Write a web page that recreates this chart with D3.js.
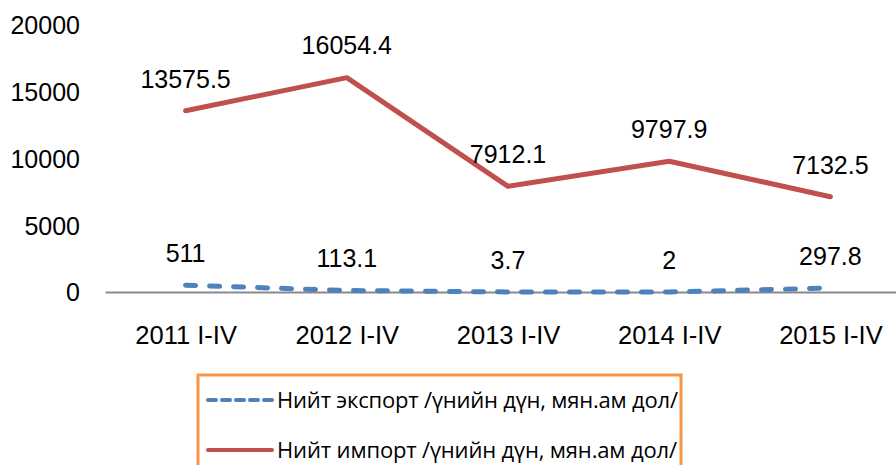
<!DOCTYPE html>
<html>
<head>
<meta charset="utf-8">
<script src="https://cdn.jsdelivr.net/npm/d3@7"></script>
<style>
  html, body { margin: 0; padding: 0; background: #fff; }
  svg { display: block; }
  .num { font-family: "Liberation Sans", Arial, sans-serif; font-size: 25px; fill: #000; }
  .cat { font-size: 25.5px; }
  .leg { font-family: "Open Sans", "Noto Sans", sans-serif; font-size: 22px; fill: #000; }
</style>
</head>
<body>
<svg id="chart" width="896" height="465"></svg>
<script>
// Period labels along the x axis
const categories = ["2011 I-IV", "2012 I-IV", "2013 I-IV", "2014 I-IV", "2015 I-IV"];
// Total exports, value in million US dollars
const exportValues = [511, 113.1, 3.7, 2, 297.8];
// Total imports, value in million US dollars
const importValues = [13575.5, 16054.4, 7912.1, 9797.9, 7132.5];
// Y axis ticks
const yTicks = [0, 5000, 10000, 15000, 20000];
// Series names for the legend
const seriesNames = [
  "Нийт экспорт /үнийн дүн, мян.ам дол/",
  "Нийт импорт /үнийн дүн, мян.ам дол/"
];

const svg = d3.select("#chart");

const x = d3.scalePoint().domain(categories).range([105, 911]).padding(0.5);
const y = d3.scaleLinear().domain([0, 20000]).range([292, 25]);

// Y tick labels (no axis line, no gridlines)
const yAxis = svg.append("g")
  .attr("transform", "translate(80,0)")
  .call(d3.axisLeft(y).tickValues(yTicks).tickSize(0).tickPadding(0).tickFormat(d3.format("d")));
yAxis.select(".domain").remove();
yAxis.selectAll("text").attr("class", "num").attr("font-size", null).attr("font-family", null)
  .attr("dy", "0.35em");

// Category axis along the zero line
const xAxis = svg.append("g")
  .attr("transform", `translate(0,${y(0)})`)
  .call(d3.axisBottom(x).tickSize(0).tickPadding(0));
xAxis.select(".domain").attr("stroke", "#898989").attr("stroke-width", 2);
xAxis.selectAll("text").attr("class", "num cat").attr("font-size", null).attr("font-family", null)
  .attr("y", 43).attr("dy", "0.35em");

const line = d3.line().x((d, i) => x(categories[i])).y(d => y(d));

const series = [
  { name: seriesNames[0], values: exportValues, color: "#4F81BD", dash: "10,14" },
  { name: seriesNames[1], values: importValues, color: "#C0504D", dash: null }
];

series.forEach(s => {
  svg.append("path")
    .datum(s.values)
    .attr("d", line)
    .attr("fill", "none")
    .attr("stroke", s.color)
    .attr("stroke-width", 5)
    .attr("stroke-linecap", "round")
    .attr("stroke-linejoin", "round")
    .attr("stroke-dasharray", s.dash);

  svg.append("g").selectAll("text")
    .data(s.values)
    .join("text")
    .attr("class", "num")
    .attr("text-anchor", "middle")
    .attr("x", (d, i) => x(categories[i]))
    .attr("y", d => y(d) - 32)
    .attr("dy", "0.35em")
    .text(d => String(d));
});

// Legend box
const legend = svg.append("g");
legend.append("rect")
  .attr("x", 198).attr("y", 375)
  .attr("width", 483).attr("height", 120)
  .attr("fill", "#fff")
  .attr("stroke", "#F79646")
  .attr("stroke-width", 3);

series.forEach((s, i) => {
  const cy = 400 + i * 50;
  legend.append("line")
    .attr("x1", 208).attr("x2", 272)
    .attr("y1", cy).attr("y2", cy)
    .attr("stroke", s.color)
    .attr("stroke-width", 4)
    .attr("stroke-linecap", "round")
    .attr("stroke-dasharray", s.dash ? "8,6" : null);
  legend.append("text")
    .attr("class", "leg")
    .attr("x", 277)
    .attr("y", cy)
    .attr("dy", "0.35em")
    .attr("textLength", i === 0 ? 401 : 400)
    .attr("lengthAdjust", "spacing")
    .text(s.name);
});
</script>
</body>
</html>
